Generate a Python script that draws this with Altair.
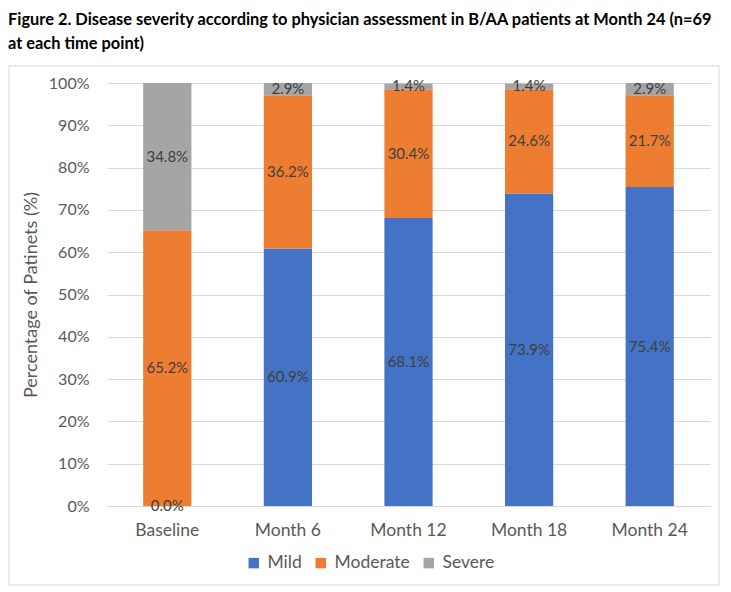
import altair as alt
import pandas as pd

times = ["Baseline", "Month 6", "Month 12", "Month 18", "Month 24"]
severities = ["Mild", "Moderate", "Severe"]
mild = [0.0, 60.9, 68.1, 73.9, 75.4]
moderate = [65.2, 36.2, 30.4, 24.6, 21.7]
severe = [34.8, 2.9, 1.4, 1.4, 2.9]
colors = ["#4472C4", "#ED7D31", "#A5A5A5"]

rows = []
for i, t in enumerate(times):
    for j, (s, vals) in enumerate(zip(severities, [mild, moderate, severe])):
        rows.append({"time": t, "severity": s, "value": vals[i], "ord": j})
df = pd.DataFrame(rows)

FONT = "Lato"
GRAY = "#595959"

base = alt.Chart(df).transform_stack(
    stack="value", as_=["y0", "y1"], groupby=["time"], sort=[{"field": "ord", "order": "ascending"}]
).transform_calculate(
    mid="(datum.y0 + datum.y1) / 2",
    label="format(datum.value, '.1f') + '%'"
)

xenc = alt.X("time:N", sort=times, title=None,
             scale=alt.Scale(paddingInner=0.6, paddingOuter=0.3),
             axis=alt.Axis(labelAngle=0, labelFontSize=17.5, labelColor=GRAY, labelFont=FONT,
                           ticks=False, labelPadding=15, domainColor="#D9D9D9", grid=False))

bars = base.mark_bar().encode(
    x=xenc,
    y=alt.Y("y0:Q", scale=alt.Scale(domain=[0, 100]),
            title="Percentage of Patinets (%)",
            axis=alt.Axis(values=list(range(0, 101, 10)), labelExpr="datum.value + '%'",
                          labelFontSize=16, labelColor=GRAY, labelFont=FONT, labelPadding=18,
                          ticks=False, domain=False, gridColor="#D9D9D9",
                          titleFontSize=18, titleColor=GRAY, titleFont=FONT,
                          titleFontWeight="normal", titlePadding=8)),
    y2="y1:Q",
    color=alt.Color("severity:N", sort=severities,
                    scale=alt.Scale(domain=severities, range=colors),
                    legend=alt.Legend(title=None, orient="none", direction="horizontal",
                                      legendX=138, legendY=471, symbolType="square",
                                      symbolSize=110, symbolStrokeWidth=0,
                                      labelFontSize=17.5, labelColor=GRAY, labelFont=FONT,
                                      columnPadding=10, labelOffset=5, symbolOffset=0)),
    order=alt.Order("ord:Q")
)

labels = base.mark_text(fontSize=15, color="#404040", font=FONT).encode(
    x=alt.X("time:N", sort=times),
    y=alt.Y("mid:Q"),
    text="label:N"
)

frame = alt.Chart(pd.DataFrame({"a": [0]})).mark_rect(
    fill=None, stroke="#D9D9D9", strokeWidth=1
).encode(x=alt.value(-98), x2=alt.value(612), y=alt.value(-17), y2=alt.value(502))

chart = alt.layer(frame, bars, labels).properties(
    width=603, height=423,
    title=alt.Title(
        ["Figure 2. Disease severity according to physician assessment in B/AA patients at Month 24 (n=69",
         "at each time point)"],
        anchor="start", frame="group", dx=-99, dy=0,
        fontSize=16.4, font=FONT, fontWeight="bold", color="#000000", lineHeight=24, offset=13
    ),
    autosize=alt.AutoSizeParams(type="none"),
    padding={"left": 99, "top": 75, "right": 13, "bottom": 80}
).configure_view(stroke=None).configure_axis(labelFontWeight="normal")

chart.save("out.html", embed_options={"renderer": "svg", "actions": False})
